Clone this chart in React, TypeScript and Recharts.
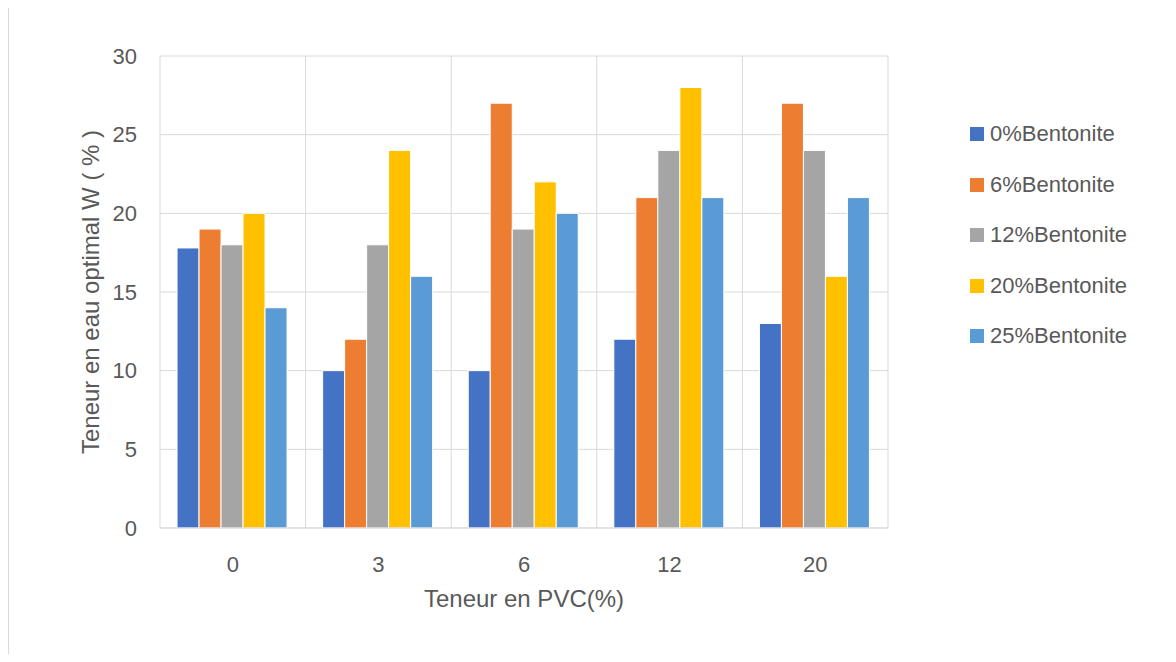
import { BarChart, Bar, XAxis, YAxis, CartesianGrid, Legend, Label } from 'recharts';

const pvc = ['0', '3', '6', '12', '20'];
const series = ['0%Bentonite', '6%Bentonite', '12%Bentonite', '20%Bentonite', '25%Bentonite'];
const colors = ['#4472C4', '#ED7D31', '#A5A5A5', '#FFC000', '#5B9BD5'];

const bent0 = [17.8, 10, 10, 12, 13];
const bent6 = [19, 12, 27, 21, 27];
const bent12 = [18, 18, 19, 24, 24];
const bent20 = [20, 24, 22, 28, 16];
const bent25 = [14, 16, 20, 21, 21];
const values = [bent0, bent6, bent12, bent20, bent25];

const yTicks = [0, 5, 10, 15, 20, 25, 30];

const data = pvc.map((p, i) => {
  const row: Record<string, string | number> = { pvc: p };
  series.forEach((s, k) => { row[s] = values[k][i]; });
  return row;
});

const FONT = '"Liberation Sans", Arial, sans-serif';
const TEXT = '#595959';
const GRID = '#d9d9d9';

// keep series order as given (Recharts sorts legend items by default)
const LegendList = () => (
  <div style={{ fontFamily: FONT, fontSize: 22, color: TEXT }}>
    {series.map((s, k) => (
      <div key={s} style={{ display: 'flex', alignItems: 'center', height: 50.5 }}>
        <span style={{ width: 14, height: 14, background: colors[k], display: 'inline-block', marginRight: 6 }} />
        <span>{s}</span>
      </div>
    ))}
  </div>
);

export default function App() {
  return (
    <div style={{ position: 'relative', width: 1160, height: 646, overflow: 'hidden' }}>
      <div style={{ position: 'absolute', left: 0, top: -2, width: 1400, height: 900, border: `1px solid ${GRID}`, boxSizing: 'border-box' }} />
      <div style={{ position: 'absolute', left: 0, top: 0 }}>
        <BarChart width={1160} height={640} data={data}
          margin={{ top: 48, right: 280, bottom: 0, left: 0 }}
          barCategoryGap="11.7%" barGap={0}>
          <CartesianGrid stroke={GRID} strokeWidth={1}
            verticalCoordinatesGenerator={({ offset }: any) =>
              [0, 1, 2, 3, 4, 5].map((i) => offset.left + (i * offset.width) / 5)} />
          <XAxis dataKey="pvc" axisLine={{ stroke: GRID }} tickLine={false} tickSize={0} tickMargin={28}
            tick={{ fill: TEXT, fontSize: 22, fontFamily: FONT }} height={120}>
            <Label position="insideTop" offset={62} value="Teneur en PVC(%)"
              style={{ fill: TEXT, fontSize: 24, fontFamily: FONT }} />
          </XAxis>
          <YAxis type="number" domain={[0, 30]} ticks={yTicks} width={152} axisLine={false} tickLine={false}
            tickSize={0} tickMargin={23} tick={{ fill: TEXT, fontSize: 22, fontFamily: FONT }}>
            <Label content={({ viewBox }: any) => {
              const cx = 82;
              const cy = viewBox.y + viewBox.height / 2;
              return (
                <text x={cx} y={cy} transform={`rotate(-90 ${cx} ${cy})`} textAnchor="middle"
                  dominantBaseline="central" fill={TEXT} fontSize={24} fontFamily={FONT}>
                  Teneur en eau optimal W ( % )
                </text>
              );
            }} />
          </YAxis>
          <Legend layout="horizontal" align="center" verticalAlign="middle" content={<LegendList />}
            wrapperStyle={{ position: 'absolute', left: 962, top: 101, width: 190 }} />
          {series.map((s, k) => (
            <Bar key={s} dataKey={s} fill={colors[k]} stroke="#ffffff" strokeWidth={1} isAnimationActive={false} />
          ))}
        </BarChart>
      </div>
    </div>
  );
}
